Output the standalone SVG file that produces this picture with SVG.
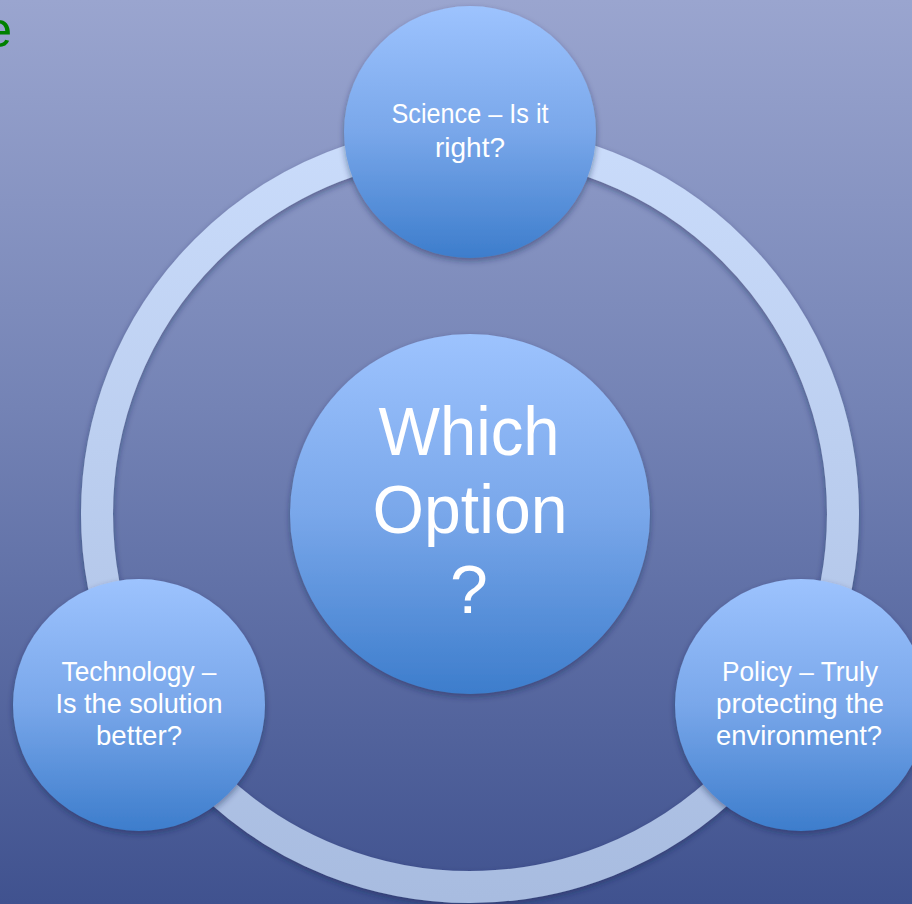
<svg xmlns="http://www.w3.org/2000/svg" width="912" height="904" viewBox="0 0 912 904">
  <defs>
    <linearGradient id="bg" x1="0" y1="0" x2="0" y2="1">
      <stop offset="0" stop-color="#9aa5cf"/>
      <stop offset="0.45" stop-color="#7483b5"/>
      <stop offset="1" stop-color="#40528f"/>
    </linearGradient>
    <linearGradient id="ball" x1="0" y1="0" x2="0" y2="1">
      <stop offset="0" stop-color="#9dc3fe"/>
      <stop offset="0.5" stop-color="#79a7ea"/>
      <stop offset="1" stop-color="#3d7dcc"/>
    </linearGradient>
    <linearGradient id="ringgu" gradientUnits="userSpaceOnUse" x1="0" y1="130" x2="0" y2="900">
      <stop offset="0" stop-color="#cadcfb"/>
      <stop offset="1" stop-color="#a8bce0"/>
    </linearGradient>
    <filter id="sh" x="-20%" y="-20%" width="140%" height="140%">
      <feDropShadow dx="0" dy="3" stdDeviation="3" flood-color="#1c2850" flood-opacity="0.45"/>
    </filter>
  </defs>
  <style>
    .ball { fill: url(#ball); filter: url(#sh); }
    .lbl { font-family: "Liberation Sans", Arial, sans-serif; fill: #ffffff; text-anchor: middle; font-size: 28px; }
    .big { font-family: "Liberation Sans", Arial, sans-serif; fill: #ffffff; text-anchor: middle; font-size: 68px; }
  </style>
  <rect x="0" y="0" width="912" height="904" fill="url(#bg)"/>
  <text x="12" y="47" font-family="Liberation Sans, Arial, sans-serif" font-size="50" fill="#008000" text-anchor="end">e</text>

  <g id="connectors">
    <circle cx="470" cy="514" r="373" fill="none" stroke="url(#ringgu)" stroke-width="32" filter="url(#sh)"/>
  </g>

  <g id="node-science">
    <circle class="ball" cx="470" cy="132" r="126"/>
    <text class="lbl" x="470" y="123" textLength="157" lengthAdjust="spacingAndGlyphs">Science – Is it</text>
    <text class="lbl" x="470" y="157" textLength="70" lengthAdjust="spacingAndGlyphs">right?</text>
  </g>

  <g id="node-center">
    <circle class="ball" cx="470" cy="514" r="180"/>
    <text class="big" x="469" y="455" textLength="181" lengthAdjust="spacingAndGlyphs">Which</text>
    <text class="big" x="470" y="533" textLength="195" lengthAdjust="spacingAndGlyphs">Option</text>
    <text class="big" x="469" y="613">?</text>
  </g>

  <g id="node-technology">
    <circle class="ball" cx="139" cy="705" r="126"/>
    <text class="lbl" x="139" y="681" textLength="155" lengthAdjust="spacingAndGlyphs">Technology –</text>
    <text class="lbl" x="139" y="713" textLength="167" lengthAdjust="spacingAndGlyphs">Is the solution</text>
    <text class="lbl" x="139" y="745" textLength="86" lengthAdjust="spacingAndGlyphs">better?</text>
  </g>

  <g id="node-policy">
    <circle class="ball" cx="801" cy="705" r="126"/>
    <text class="lbl" x="800" y="681" textLength="156" lengthAdjust="spacingAndGlyphs">Policy – Truly</text>
    <text class="lbl" x="800" y="713" textLength="168" lengthAdjust="spacingAndGlyphs">protecting the</text>
    <text class="lbl" x="799" y="745" textLength="166" lengthAdjust="spacingAndGlyphs">environment?</text>
  </g>
</svg>
